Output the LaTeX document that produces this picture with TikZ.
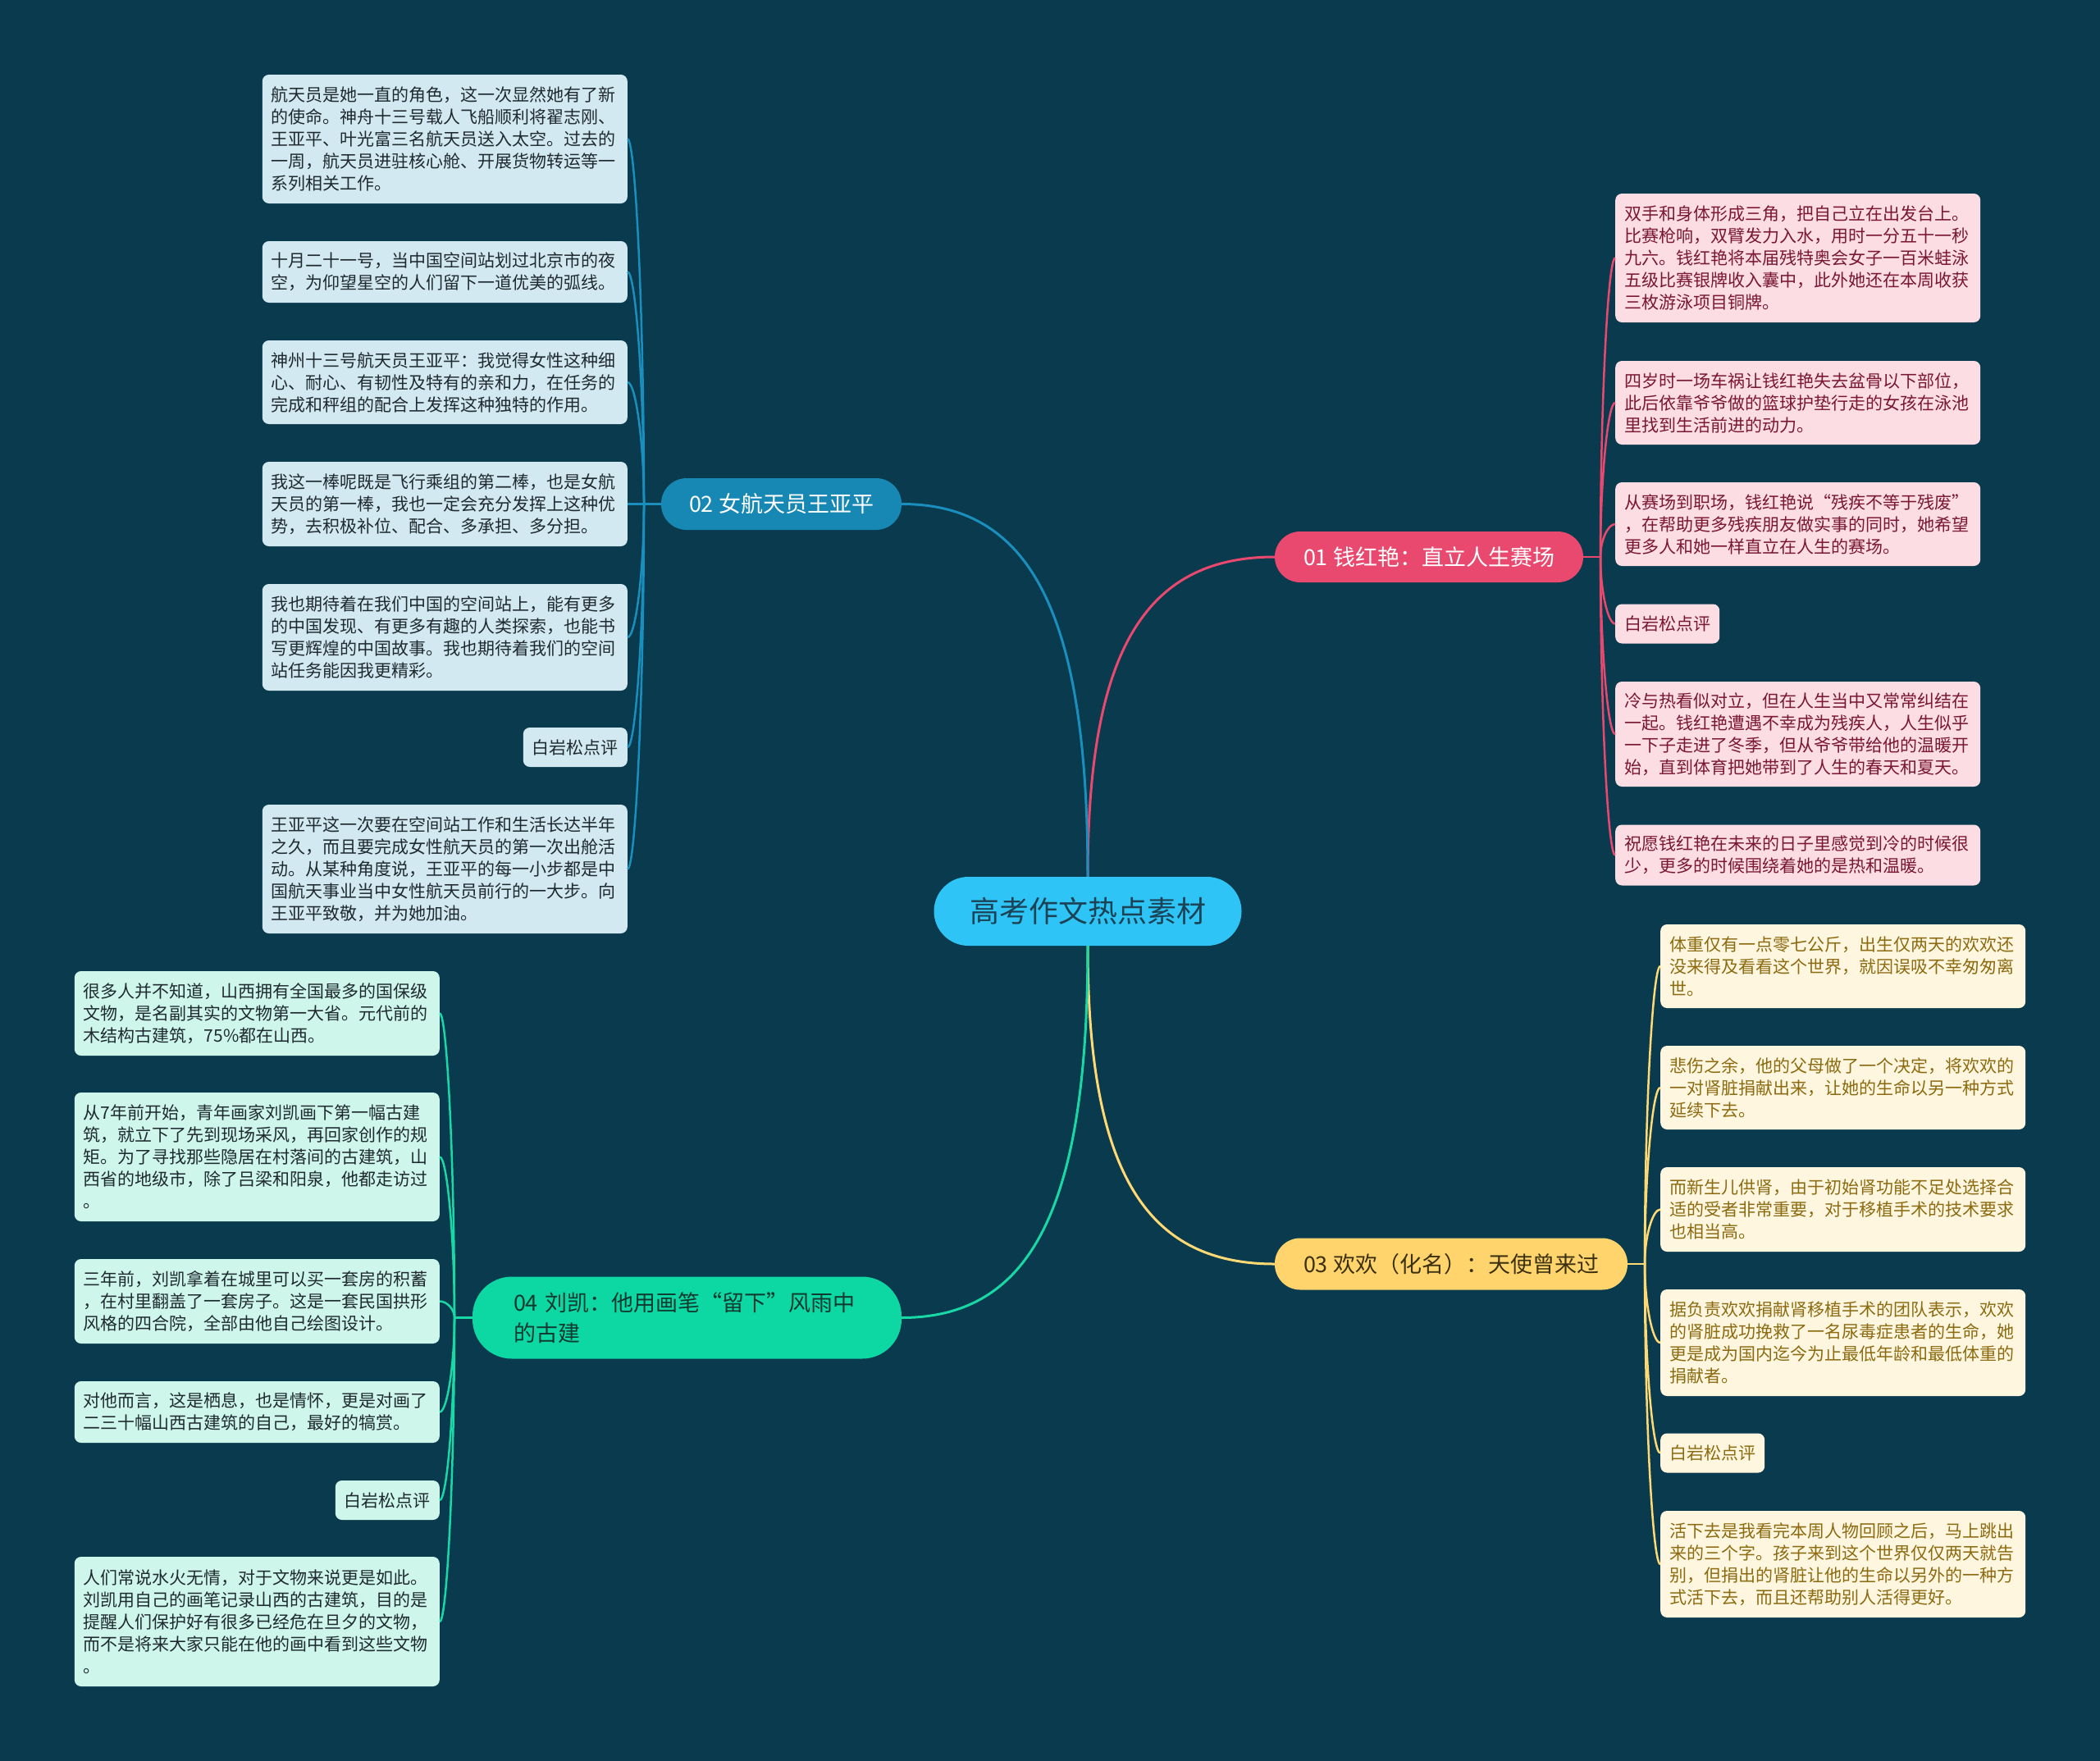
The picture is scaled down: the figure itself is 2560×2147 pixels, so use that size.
\documentclass[tikz,border=0pt]{standalone}
\usepackage{fontspec}
\setmainfont{Noto Sans CJK SC}
\usetikzlibrary{calc}
\definecolor{bg}{HTML}{0A3A4E}
\definecolor{cmain}{HTML}{2EC5F6}
\definecolor{cblue}{HTML}{1787B3}
\definecolor{cpink}{HTML}{E9496E}
\definecolor{cyel}{HTML}{FFD46C}
\definecolor{cgreen}{HTML}{0DD7A3}
\definecolor{lblue}{HTML}{1A8FBD}
\definecolor{lpink}{HTML}{E9496E}
\definecolor{lyel}{HTML}{FFDA74}
\definecolor{lgreen}{HTML}{18D8A6}
\definecolor{fblue}{HTML}{D3E9F1}
\definecolor{fpink}{HTML}{FCDDE3}
\definecolor{fyel}{HTML}{FEF6DF}
\definecolor{fgreen}{HTML}{CEF6EB}
\definecolor{tpink}{HTML}{7A1733}
\definecolor{tyel}{HTML}{8C6A10}
\definecolor{tdark}{HTML}{1F2A30}
\definecolor{tmain}{HTML}{1C4256}
\definecolor{tyelmain}{HTML}{3B3010}
\definecolor{tgreenmain}{HTML}{10392F}
\newcommand{\leaffont}{\fontsize{21pt}{27pt}\selectfont}
\newcommand{\branchfont}{\fontsize{27pt}{37pt}\selectfont}
\tikzset{
  leafbase/.style={rectangle, rounded corners=8pt, inner xsep=11pt, inner ysep=0pt,
    text width=423pt, align=left, font=\leaffont},
  shortleaf/.style={rectangle, rounded corners=8pt, inner xsep=11pt, inner ysep=0pt,
    minimum height=48pt, font=\leaffont},
  bleaf/.style={fill=fblue, text=tdark},
  pleaf/.style={fill=fpink, text=tpink},
  yleaf/.style={fill=fyel, text=tyel},
  gleaf/.style={fill=fgreen, text=tdark},
  branch/.style={rectangle, inner sep=0pt, font=\branchfont},
  leafcurve/.style={to path={.. controls ($(\tikztostart)!0.5!(\tikztostart|-\tikztotarget)$) and ($(\tikztotarget)!0.5!(\tikztostart|-\tikztotarget)$) .. (\tikztotarget)}},
  maincurve/.style={to path={.. controls ($(\tikztostart)!0.7!(\tikztostart|-\tikztotarget)$) and ($(\tikztotarget)!0.7!(\tikztostart|-\tikztotarget)$) .. (\tikztotarget)}},
  mainline/.style={line width=3pt},
  subline/.style={line width=2.5pt}
}
\begin{document}
\begin{tikzpicture}[x=1pt,y=-1pt]
\useasboundingbox (0,0) rectangle (2560,2147);
\fill[bg] (0,0) rectangle (2560,2147);

% ---------- central and branch nodes ----------
\node[branch, fill=cmain, text=tmain, minimum width=375pt, minimum height=84pt,
  rounded corners=42pt, font=\fontsize{36pt}{40pt}\selectfont] (c) at (1326,1111) {高考作文热点素材};
\node[branch, fill=cpink, text=white, minimum width=376pt, minimum height=62pt,
  rounded corners=31pt] (n1) at (1742,679) {01 钱红艳：直立人生赛场};
\node[branch, fill=cblue, text=white, minimum width=293pt, minimum height=63pt,
  rounded corners=31pt] (n2) at (952.5,614.5) {02 女航天员王亚平};
\node[branch, fill=cyel, text=tyelmain, minimum width=430pt, minimum height=63pt,
  rounded corners=31pt] (n3) at (1769,1541) {03 欢欢（化名）：天使曾来过};
\node[branch, fill=cgreen, text=tgreenmain, minimum height=100pt, inner xsep=50pt,
  text width=423pt, align=left, rounded corners=48pt] (n4) at (837.5,1606.5)
  {04 刘凯：他用画笔“留下”风雨中\\的古建};

% ---------- spine coordinates ----------
\coordinate (s1) at (1951,679);
\coordinate (s2) at (785,614.5);
\coordinate (s3) at (2005,1541);
\coordinate (s4) at (554,1606.5);

% ---------- 02 leaves (blue) ----------
\node[leafbase, bleaf, minimum height=157pt, anchor=east] (b1) at (765,169.5)
 {航天员是她一直的角色，这一次显然她有了新\\的使命。神舟十三号载人飞船顺利将翟志刚、\\王亚平、叶光富三名航天员送入太空。过去的\\一周，航天员进驻核心舱、开展货物转运等一\\系列相关工作。};
\node[leafbase, bleaf, minimum height=75pt, anchor=east] (b2) at (765,331.5)
 {十月二十一号，当中国空间站划过北京市的夜\\空，为仰望星空的人们留下一道优美的弧线。};
\node[leafbase, bleaf, minimum height=102pt, anchor=east] (b3) at (765,466)
 {神州十三号航天员王亚平：我觉得女性这种细\\心、耐心、有韧性及特有的亲和力，在任务的\\完成和秤组的配合上发挥这种独特的作用。};
\node[leafbase, bleaf, minimum height=103pt, anchor=east] (b4) at (765,614.5)
 {我这一棒呢既是飞行乘组的第二棒，也是女航\\天员的第一棒，我也一定会充分发挥上这种优\\势，去积极补位、配合、多承担、多分担。};
\node[leafbase, bleaf, minimum height=130pt, anchor=east] (b5) at (765,777)
 {我也期待着在我们中国的空间站上，能有更多\\的中国发现、有更多有趣的人类探索，也能书\\写更辉煌的中国故事。我也期待着我们的空间\\站任务能因我更精彩。};
\node[shortleaf, bleaf, anchor=east] (b6) at (765,911) {白岩松点评};
\node[leafbase, bleaf, minimum height=157pt, anchor=east] (b7) at (765,1059.5)
 {王亚平这一次要在空间站工作和生活长达半年\\之久，而且要完成女性航天员的第一次出舱活\\动。从某种角度说，王亚平的每一小步都是中\\国航天事业当中女性航天员前行的一大步。向\\王亚平致敬，并为她加油。};

% ---------- 01 leaves (pink) ----------
\node[leafbase, pleaf, minimum height=157pt, anchor=west] (p1) at (1969,314.5)
 {双手和身体形成三角，把自己立在出发台上。\\比赛枪响，双臂发力入水，用时一分五十一秒\\九六。钱红艳将本届残特奥会女子一百米蛙泳\\五级比赛银牌收入囊中，此外她还在本周收获\\三枚游泳项目铜牌。};
\node[leafbase, pleaf, minimum height=102pt, anchor=west] (p2) at (1969,491)
 {四岁时一场车祸让钱红艳失去盆骨以下部位，\\此后依靠爷爷做的篮球护垫行走的女孩在泳池\\里找到生活前进的动力。};
\node[leafbase, pleaf, minimum height=102pt, anchor=west] (p3) at (1969,639)
 {从赛场到职场，钱红艳说“残疾不等于残废”\\，在帮助更多残疾朋友做实事的同时，她希望\\更多人和她一样直立在人生的赛场。};
\node[shortleaf, pleaf, anchor=west] (p4) at (1969,760.5) {白岩松点评};
\node[leafbase, pleaf, minimum height=128pt, anchor=west] (p5) at (1969,895)
 {冷与热看似对立，但在人生当中又常常纠结在\\一起。钱红艳遭遇不幸成为残疾人，人生似乎\\一下子走进了冬季，但从爷爷带给他的温暖开\\始，直到体育把她带到了人生的春天和夏天。};
\node[leafbase, pleaf, minimum height=74pt, anchor=west] (p6) at (1969,1042.5)
 {祝愿钱红艳在未来的日子里感觉到冷的时候很\\少，更多的时候围绕着她的是热和温暖。};

% ---------- 03 leaves (yellow) ----------
\node[leafbase, yleaf, minimum height=102pt, anchor=west] (y1) at (2024,1178)
 {体重仅有一点零七公斤，出生仅两天的欢欢还\\没来得及看看这个世界，就因误吸不幸匆匆离\\世。};
\node[leafbase, yleaf, minimum height=102pt, anchor=west] (y2) at (2024,1326)
 {悲伤之余，他的父母做了一个决定，将欢欢的\\一对肾脏捐献出来，让她的生命以另一种方式\\延续下去。};
\node[leafbase, yleaf, minimum height=103pt, anchor=west] (y3) at (2024,1474.5)
 {而新生儿供肾，由于初始肾功能不足处选择合\\适的受者非常重要，对于移植手术的技术要求\\也相当高。};
\node[leafbase, yleaf, minimum height=130pt, anchor=west] (y4) at (2024,1637)
 {据负责欢欢捐献肾移植手术的团队表示，欢欢\\的肾脏成功挽救了一名尿毒症患者的生命，她\\更是成为国内迄今为止最低年龄和最低体重的\\捐献者。};
\node[shortleaf, yleaf, anchor=west] (y5) at (2024,1771.5) {白岩松点评};
\node[leafbase, yleaf, minimum height=130pt, anchor=west] (y6) at (2024,1907)
 {活下去是我看完本周人物回顾之后，马上跳出\\来的三个字。孩子来到这个世界仅仅两天就告\\别，但捐出的肾脏让他的生命以另外的一种方\\式活下去，而且还帮助别人活得更好。};

% ---------- 04 leaves (green) ----------
\node[leafbase, gleaf, minimum height=103pt, anchor=east] (g1) at (536,1235.5)
 {很多人并不知道，山西拥有全国最多的国保级\\文物，是名副其实的文物第一大省。元代前的\\木结构古建筑，75\%都在山西。};
\node[leafbase, gleaf, minimum height=157pt, anchor=east] (g2) at (536,1410.5)
 {从7年前开始，青年画家刘凯画下第一幅古建\\筑，就立下了先到现场采风，再回家创作的规\\矩。为了寻找那些隐居在村落间的古建筑，山\\西省的地级市，除了吕梁和阳泉，他都走访过\\。};
\node[leafbase, gleaf, minimum height=103pt, anchor=east] (g3) at (536,1586.5)
 {三年前，刘凯拿着在城里可以买一套房的积蓄\\，在村里翻盖了一套房子。这是一套民国拱形\\风格的四合院，全部由他自己绘图设计。};
\node[leafbase, gleaf, minimum height=75pt, anchor=east] (g4) at (536,1721.5)
 {对他而言，这是栖息，也是情怀，更是对画了\\二三十幅山西古建筑的自己，最好的犒赏。};
\node[shortleaf, gleaf, anchor=east] (g5) at (536,1829) {白岩松点评};
\node[leafbase, gleaf, minimum height=158pt, anchor=east] (g6) at (536,1977)
 {人们常说水火无情，对于文物来说更是如此。\\刘凯用自己的画笔记录山西的古建筑，目的是\\提醒人们保护好有很多已经危在旦夕的文物，\\而不是将来大家只能在他的画中看到这些文物\\。};

% ---------- connectors ----------
\draw[mainline, lpink] (c.north) to[maincurve] (n1.west);
\draw[mainline, lblue] (c.north) to[maincurve] (n2.east);
\draw[mainline, lyel] (c.south) to[maincurve] (n3.west);
\draw[mainline, lgreen] (c.south) to[maincurve] (n4.east);

\draw[subline, lpink] (n1.east) -- (s1);
\foreach \n in {p1,p2,p3,p4,p5,p6} \draw[subline, lpink] (s1) to[leafcurve] (\n.west);
\draw[subline, lblue] (n2.west) -- (s2);
\foreach \n in {b1,b2,b3,b4,b5,b6,b7} \draw[subline, lblue] (s2) to[leafcurve] (\n.east);
\draw[subline, lyel] (n3.east) -- (s3);
\foreach \n in {y1,y2,y3,y4,y5,y6} \draw[subline, lyel] (s3) to[leafcurve] (\n.west);
\draw[subline, lgreen] (n4.west) -- (s4);
\foreach \n in {g1,g2,g3,g4,g5,g6} \draw[subline, lgreen] (s4) to[leafcurve] (\n.east);
\end{tikzpicture}
\end{document}
